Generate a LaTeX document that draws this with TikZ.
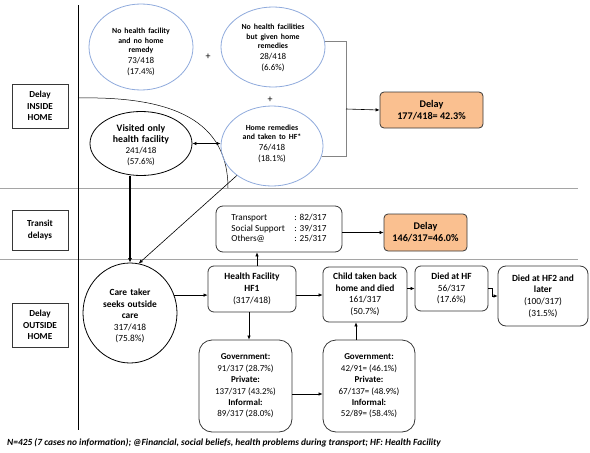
\documentclass[tikz,border=0pt]{standalone}
\usepackage{fontspec}
\setmainfont{Carlito}
\usetikzlibrary{arrows.meta,shapes.geometric}
\definecolor{ellblue}{RGB}{143,170,220}
\definecolor{dorange}{RGB}{250,192,144}
\definecolor{sepgray}{RGB}{165,165,165}
\definecolor{boxline}{RGB}{55,55,55}
\begin{document}
\begin{tikzpicture}[x=1pt,y=-1pt,
  lbl/.style={draw=boxline, line width=0.7pt, minimum width=56pt, inner sep=0pt, align=center, font=\fontsize{9.2}{11.5}\selectfont\bfseries},
  bell/.style={ellipse, draw=ellblue, line width=0.8pt, inner sep=0pt},
  kell/.style={ellipse, draw=black, line width=0.8pt, inner sep=0pt},
  tx/.style={align=center, text width=#1, inner sep=0pt, font=\fontsize{9}{11}\selectfont},
  sm/.style={},
  rbox/.style={draw=boxline, rounded corners=6pt, line width=0.8pt, inner sep=0pt, align=center, font=\fontsize{9.4}{11.7}\selectfont},
  dbox/.style={rbox, fill=dorange, rounded corners=4pt, font=\fontsize{10.2}{12}\selectfont\bfseries},
  arr/.style={-{Latex[length=4pt,width=3.5pt]}, line width=0.6pt},
  sep/.style={draw=sepgray, line width=0.8pt}]
\useasboundingbox (0,0) rectangle (590,453);

% separators
\coordinate (s1a) at (0,188); \coordinate (s1b) at (578,188);
\coordinate (s2a) at (0,259); \coordinate (s2b) at (578,259);
\coordinate (vta) at (78,5); \coordinate (vtb) at (78,430);
\draw[sep] (s1a) -- (s1b);
\draw[sep] (s2a) -- (s2b);
\draw[line width=0.6pt] (vta) -- (vtb);

% left labels
\node[lbl, minimum height=44pt] (lb1) at (40,106) {Delay\\INSIDE\\HOME};
\node[lbl, minimum height=40pt] (lb2) at (40,230) {Transit\\delays};
\node[lbl, minimum height=44pt] (lb3) at (40,325) {Delay\\OUTSIDE\\HOME};

% big arc
\coordinate (arcA) at (78,98); \coordinate (arcB) at (228,188);
\draw[line width=0.5pt] (arcA) .. controls (175,96) and (228,122) .. (arcB);

% ellipses
\node[bell, minimum width=104pt, minimum height=86pt] (nhf) at (141,47) {};
\node[tx=100pt] (nhft) at (141,52) {{\fontsize{7.8}{9.3}\selectfont\bfseries No health facility\\and no home\\remedy\par}73/418\\(17.4\%)};
\node[bell, minimum width=104pt, minimum height=80pt] (nhg) at (273,47) {};
\node[tx=100pt] (nhgt) at (273,48) {{\fontsize{7.8}{9.3}\selectfont\bfseries No health facilities\\but given home\\remedies\par}28/418\\(6.6\%)};
\node[bell, minimum width=102pt, minimum height=80pt] (hr) at (272,146) {};
\node[tx=100pt] (hrt) at (272,144) {{\fontsize{7.8}{9.6}\selectfont\bfseries Home remedies\\and taken to HF*\par}76/418\\(18.1\%)};
\node[kell, minimum width=102pt, minimum height=64pt] (vis) at (141,143.5) {};
\node[tx=100pt] (vist) at (141,145) {{\fontsize{9.8}{11.5}\selectfont\bfseries Visited only\\health facility\par}241/418\\(57.6\%)};

\node[font=\fontsize{10}{12}\selectfont, inner sep=0pt] (p1) at (208,57) {+};
\node[font=\fontsize{10}{12}\selectfont, inner sep=0pt] (p2) at (270,100) {+};

% delay 1
\node[dbox, minimum width=103pt, minimum height=36pt] (d1) at (431.5,110) {Delay\\177/418= 42.3\%};
\coordinate (brk) at (346,109);
\draw[draw=sepgray!80!black, line width=0.6pt] (nhg.6) -| (brk);
\draw[draw=sepgray!80!black, line width=0.6pt] (hr.-12) -| (brk);
\draw[arr] (brk) -- (d1.west);

\draw[{Latex[length=4pt,width=3.5pt]}-{Latex[length=4pt,width=3.5pt]}, line width=0.6pt] (vis.east) -- (vis.east -| hr.west);

% outside care
\node[kell, minimum width=94pt, minimum height=100pt] (care) at (130,313) {};
\node[tx=90pt, font=\fontsize{9.4}{11.5}\selectfont] (caret) at (130,316) {{\bfseries Care taker\\seeks outside\\care\par}317/418\\(75.8\%)};

\draw[-{Latex[length=4.5pt,width=4pt]}, line width=1.3pt] (vis.south -| care.north) -- (care.north);
\draw[arr] (hr.220) -- (care.80);

% transit
\node[rbox, minimum width=126pt, minimum height=46pt, rounded corners=7pt, font=\fontsize{9.2}{11.7}\selectfont] (tr) at (279,229) {\begin{tabular}{@{}p{63pt}@{}l@{}}Transport & : 82/317\\[-1.2pt] Social Support & : 39/317\\[-1.2pt] Others@ & : 25/317\end{tabular}};
\node[dbox, minimum width=83pt, minimum height=37pt] (d2) at (425.5,232.5) {Delay\\146/317=46.0\%};
\draw[arr] (tr.east |- d2.west) -- (d2.west);

% outside boxes
\node[rbox, minimum width=88pt, minimum height=46pt] (hf1) at (252,289) {\textbf{Health Facility}\\\textbf{HF1}\\(317/418)};
\node[rbox, minimum width=84pt, minimum height=55pt] (child) at (365,294.5) {\textbf{Child taken back}\\\textbf{home and died}\\161/317\\(50.7\%)};
\node[rbox, minimum width=73pt, minimum height=45pt] (died) at (451.5,288.5) {\textbf{Died at HF}\\56/317\\(17.6\%)};
\node[rbox, minimum width=90pt, minimum height=60pt, rounded corners=8pt] (hf2) at (543,296) {\textbf{Died at HF2 and}\\\textbf{later}\\(100/317)\\(31.5\%)};
\node[rbox, minimum width=93pt, minimum height=92pt, rounded corners=13pt, font=\fontsize{9}{11.4}\selectfont] (gov1) at (245.5,386) {\textbf{Government:}\\91/317 (28.7\%)\\\textbf{Private:}\\137/317 (43.2\%)\\\textbf{Informal:}\\89/317 (28.0\%)};
\node[rbox, minimum width=92pt, minimum height=92pt, rounded corners=13pt, font=\fontsize{9}{11.4}\selectfont] (gov2) at (369,386) {\textbf{Government:}\\42/91= (46.1\%)\\\textbf{Private:}\\67/137= (48.9\%)\\\textbf{Informal:}\\52/89= (58.4\%)};

\draw[arr] (care.22) -- (care.22 -| hf1.west);
\draw[arr] ([xshift=5pt]hf1.north) -- ([xshift=5pt]hf1.north |- tr.south);
\draw[arr] ([yshift=-6pt]hf1.east) -- ([yshift=-6pt]hf1.east -| child.west);
\draw[arr] ([xshift=-3pt]hf1.south) -- ([xshift=-3pt]hf1.south |- gov1.north);
\draw[arr] ([yshift=-8pt]gov1.east) -- ([yshift=-8pt]gov1.east -| gov2.west);
\draw[arr] ([xshift=-13pt]gov2.north) -- ([xshift=-13pt]gov2.north |- child.south);
\draw[arr] (died.west -| child.east) -- (died.west);
\draw[arr] (died.east) -- ++(4,0) |- (hf2.west);

% footnote
\node[anchor=west, inner sep=0pt, font=\fontsize{9.4}{10}\selectfont\bfseries\itshape] (fn) at (7,443) {N=425 (7 cases no information); @Financial, social beliefs, health problems during transport; HF: Health Facility};
\end{tikzpicture}
\end{document}
